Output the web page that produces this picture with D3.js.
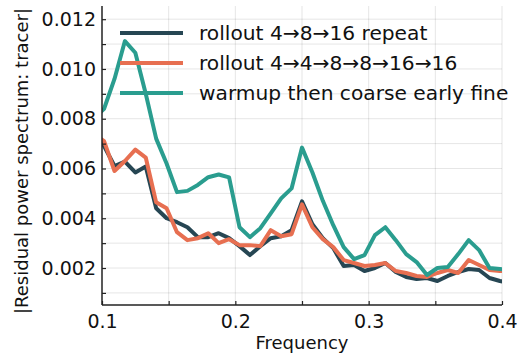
<!DOCTYPE html>
<html>
<head>
<meta charset="utf-8">
<script src="https://cdn.jsdelivr.net/npm/d3@7"></script>
<style>
  html, body { margin: 0; padding: 0; background: #fff; }
  svg { display: block; font-family: "DejaVu Sans", sans-serif; }
</style>
</head>
<body>
<svg id="chart" width="518" height="362"></svg>
<script>
// Frequency bins (k / 128) covering the plotted range
const binIndex = d3.range(12, 53);
const frequency = binIndex.map(k => k / 128);

const seriesNames = [
  "rollout 4→8→16 repeat",
  "rollout 4→4→8→8→16→16",
  "warmup then coarse early fine"
];
const seriesColors = ["#264653", "#e76f51", "#2a9d8f"];

const rolloutRepeat = [
  0.0075, 0.0069, 0.0061, 0.00628, 0.00584, 0.00608, 0.0044, 0.0040, 0.00384, 0.00364,
  0.00324, 0.00324, 0.0034, 0.0032, 0.00288, 0.00252, 0.00288, 0.0032, 0.00328, 0.00352,
  0.00468, 0.00376, 0.0032, 0.0028, 0.00208, 0.00212, 0.00188, 0.0020, 0.0022, 0.00184,
  0.00164, 0.00156, 0.0016, 0.00148, 0.00168, 0.00184, 0.00196, 0.00192, 0.0016, 0.00148,
  0.0014
];
const rolloutPaired = [
  0.0074, 0.0071, 0.0059, 0.0063, 0.00676, 0.00644, 0.00464, 0.0044, 0.00344, 0.00312,
  0.0032, 0.0034, 0.0030, 0.00316, 0.00292, 0.00292, 0.00288, 0.00352, 0.00328, 0.00336,
  0.00456, 0.00364, 0.00316, 0.00284, 0.00232, 0.0022, 0.00208, 0.00212, 0.0022, 0.00188,
  0.0018, 0.00168, 0.00164, 0.0018, 0.00192, 0.0018, 0.00232, 0.00212, 0.00192, 0.00188,
  0.0019
];
const warmupCoarseFine = [
  0.0080, 0.0084, 0.0096, 0.01112, 0.01065, 0.0090, 0.0072, 0.0062, 0.00505, 0.0051,
  0.00534, 0.00565, 0.00576, 0.00564, 0.00364, 0.00324, 0.0036, 0.0042, 0.0048, 0.0052,
  0.00684, 0.00584, 0.0047, 0.00372, 0.00284, 0.00236, 0.00252, 0.00332, 0.00364, 0.00312,
  0.00256, 0.00224, 0.00172, 0.0020, 0.00204, 0.00256, 0.00312, 0.00272, 0.0020, 0.00196,
  0.0019
];
const seriesValues = [rolloutRepeat, rolloutPaired, warmupCoarseFine];

const xTicks = [0.1, 0.2, 0.3, 0.4];
const xMinorTicks = [0.15, 0.25, 0.35];
const yTicks = [0.002, 0.004, 0.006, 0.008, 0.010, 0.012];
const yAllTicks = d3.range(1, 13).map(i => i / 1000);

const xLabel = "Frequency";
const yLabel = "|Residual power spectrum: tracer|";

// Layout
const plotLeft = 102, plotRight = 502, plotTop = 6, plotBottom = 305;
const svg = d3.select("#chart");

const x = d3.scaleLinear().domain([0.1, 0.4]).range([plotLeft, plotRight]);
const y = d3.scaleLinear().domain([0.000514, 0.01253]).range([plotBottom, plotTop]);

// Grid
const grid = svg.append("g").attr("stroke", "#000").attr("stroke-opacity", 0.1).attr("stroke-width", 1);
grid.selectAll("line.v").data(xTicks.concat(xMinorTicks).filter(d => d > 0.1)).join("line")
  .attr("x1", d => x(d)).attr("x2", d => x(d)).attr("y1", plotTop).attr("y2", plotBottom);
grid.selectAll("line.h").data(yAllTicks).join("line")
  .attr("x1", plotLeft).attr("x2", plotRight).attr("y1", d => y(d)).attr("y2", d => y(d));

// Series, clipped to the plot area
svg.append("clipPath").attr("id", "plotClip").append("rect")
  .attr("x", plotLeft).attr("y", plotTop)
  .attr("width", plotRight - plotLeft).attr("height", plotBottom - plotTop);

const line = d3.line().x(d => x(d[0])).y(d => y(d[1]));
const plot = svg.append("g").attr("clip-path", "url(#plotClip)");
seriesValues.forEach((vals, i) => {
  plot.append("path")
    .datum(frequency.map((f, j) => [f, vals[j]]))
    .attr("d", line)
    .attr("fill", "none")
    .attr("stroke", seriesColors[i])
    .attr("stroke-width", 4)
    .attr("stroke-linejoin", "round")
    .attr("stroke-linecap", "butt");
});

// Axes (ticks point inward)
const xAxis = d3.axisBottom(x).tickValues(xTicks.concat(xMinorTicks))
  .tickSize(-4).tickFormat(d => xTicks.includes(d) ? d3.format(".1f")(d) : "");
const gx = svg.append("g").attr("transform", `translate(0,${plotBottom})`).call(xAxis);
gx.select(".domain").attr("stroke", "#222").attr("stroke-width", 1.5)
  .attr("d", `M${plotLeft},0H${plotRight}`);
gx.selectAll(".tick line").attr("stroke", "#222").attr("stroke-width", 1.2);
gx.selectAll(".tick text").attr("font-size", 19).attr("fill", "#111").attr("y", 10).attr("dy", "0.71em");

const yAxis = d3.axisLeft(y).tickValues(yAllTicks)
  .tickSize(-4).tickFormat(d => yTicks.some(t => Math.abs(t - d) < 1e-9) ? d3.format(".3f")(d) : "");
const gy = svg.append("g").attr("transform", `translate(${plotLeft},0)`).call(yAxis);
gy.select(".domain").attr("stroke", "#222").attr("stroke-width", 1.5)
  .attr("d", `M0,${plotBottom}V${plotTop}`);
gy.selectAll(".tick line").attr("stroke", "#222").attr("stroke-width", 1.2);
gy.selectAll(".tick text").attr("font-size", 19).attr("fill", "#111").attr("x", -6);
svg.selectAll(".tick text").attr("font-family", "DejaVu Sans, sans-serif");

// Axis titles
svg.append("text").attr("x", (plotLeft + plotRight) / 2).attr("y", 349)
  .attr("text-anchor", "middle").attr("font-size", 18).attr("fill", "#111").text(xLabel);
svg.append("text").attr("transform", "translate(28,161) rotate(-90)")
  .attr("text-anchor", "middle").attr("font-size", 18).attr("fill", "#111").text(yLabel);

// Legend
const legend = svg.append("g");
seriesNames.forEach((name, i) => {
  const ly = 33 + i * 30;
  legend.append("line").attr("x1", 120).attr("x2", 183).attr("y1", ly).attr("y2", ly)
    .attr("stroke", seriesColors[i]).attr("stroke-width", 4);
  legend.append("text").attr("x", 199).attr("y", ly + 7)
    .attr("font-size", 20.2).attr("fill", "#111").text(name);
});
</script>
</body>
</html>
